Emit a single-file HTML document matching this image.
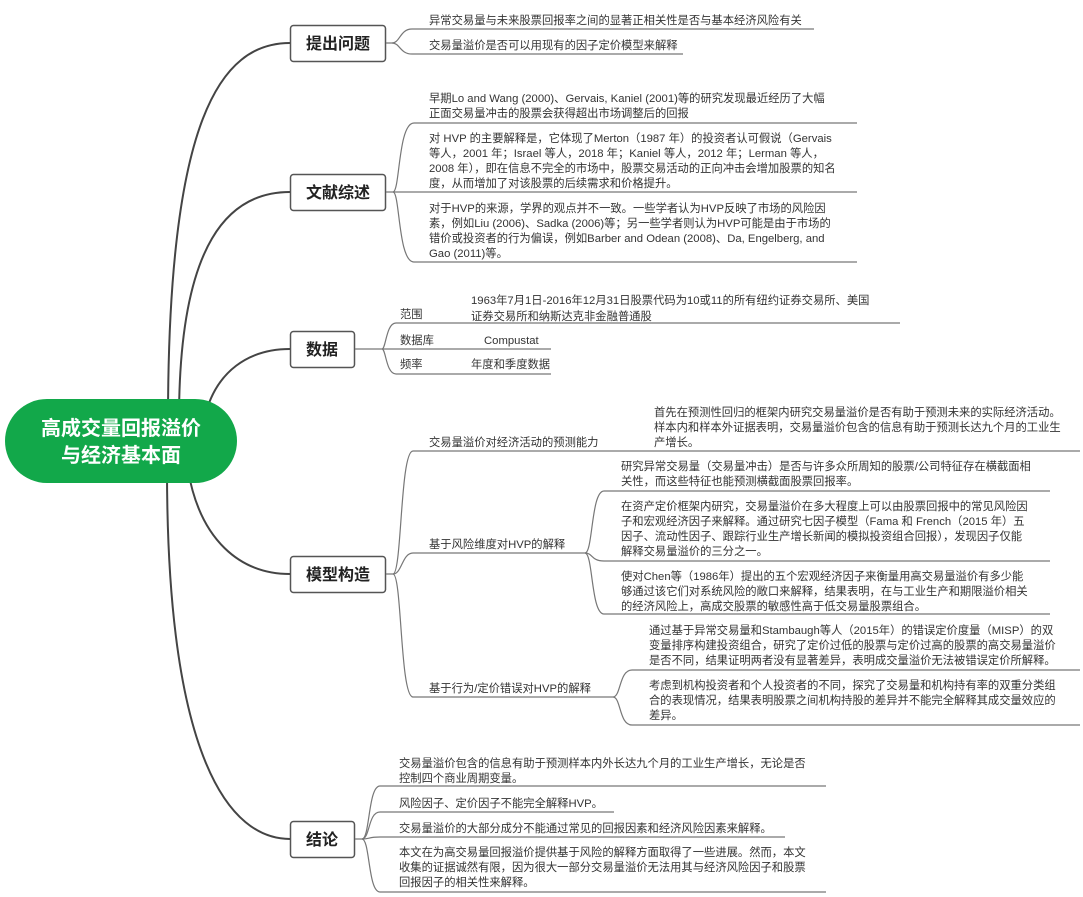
<!DOCTYPE html>
<html><head><meta charset="utf-8"><style>
html,body{margin:0;padding:0;background:#fff;}
svg{display:block;}
text{font-family:"Liberation Sans","Noto Sans CJK SC",sans-serif;fill:#333;font-size:11.3px;}
.n{font-size:16px;font-weight:bold;fill:#222;}
.m{stroke:#444;stroke-width:2;fill:none;}
.l{stroke:#777;stroke-width:1.2;fill:none;}
</style></head><body>
<svg width="1083" height="897" viewBox="0 0 1083 897" xmlns="http://www.w3.org/2000/svg">
<path class="m" d="M168,420 C168,120 220,43 290,43"/>
<path class="m" d="M179,420 C179,240 230,192 290,192"/>
<path class="m" d="M204,420 C215,370 250,349 290,349"/>
<path class="m" d="M188,470 C200,540 240,574 290,574"/>
<path class="m" d="M167,470 C167,760 230,839 290,839"/>
<rect x="5" y="399" width="232" height="84" rx="42" fill="#12a84a"/>
<text x="121" y="435" text-anchor="middle" style="font-size:20px;font-weight:bold;fill:#fff">高成交量回报溢价</text>
<text x="121" y="462" text-anchor="middle" style="font-size:20px;font-weight:bold;fill:#fff">与经济基本面</text>

<rect x="290.5" y="25.5" width="95" height="36" rx="3" fill="#fff" stroke="#555" stroke-width="1.5"/>
<text class="n" x="338" y="49" text-anchor="middle">提出问题</text>
<rect x="290.5" y="174.5" width="95" height="36" rx="3" fill="#fff" stroke="#555" stroke-width="1.5"/>
<text class="n" x="338" y="198" text-anchor="middle">文献综述</text>
<rect x="290.5" y="331.5" width="64" height="36" rx="3" fill="#fff" stroke="#555" stroke-width="1.5"/>
<text class="n" x="322" y="355" text-anchor="middle">数据</text>
<rect x="290.5" y="556.5" width="95" height="36" rx="3" fill="#fff" stroke="#555" stroke-width="1.5"/>
<text class="n" x="338" y="580" text-anchor="middle">模型构造</text>
<rect x="290.5" y="821.5" width="64" height="36" rx="3" fill="#fff" stroke="#555" stroke-width="1.5"/>
<text class="n" x="322" y="845" text-anchor="middle">结论</text>

<path class="l" d="M386,43 L392,43 C400,43 400,29 412,29 L814,29"/>
<path class="l" d="M392,43 C400,43 400,54 412,54 L683,54"/>
<text x="429" y="24">异常交易量与未来股票回报率之间的显著正相关性是否与基本经济风险有关</text>
<text x="429" y="49">交易量溢价是否可以用现有的因子定价模型来解释</text>

<path class="l" d="M386,192 L393,192 C400,192 398,123 414,123 L857,123"/>
<path class="l" d="M393,192 L857,192"/>
<path class="l" d="M393,192 C400,192 398,262 414,262 L857,262"/>
<text x="429" y="102">早期Lo and Wang (2000)、Gervais, Kaniel (2001)等的研究发现最近经历了大幅</text>
<text x="429" y="117">正面交易量冲击的股票会获得超出市场调整后的回报</text>
<text x="429" y="142">对 HVP 的主要解释是，它体现了Merton（1987 年）的投资者认可假说（Gervais</text>
<text x="429" y="157">等人，2001 年；Israel 等人，2018 年；Kaniel 等人，2012 年；Lerman 等人，</text>
<text x="429" y="172">2008 年），即在信息不完全的市场中，股票交易活动的正向冲击会增加股票的知名</text>
<text x="429" y="187">度，从而增加了对该股票的后续需求和价格提升。</text>
<text x="429" y="212">对于HVP的来源，学界的观点并不一致。一些学者认为HVP反映了市场的风险因</text>
<text x="429" y="227">素，例如Liu (2006)、Sadka (2006)等；另一些学者则认为HVP可能是由于市场的</text>
<text x="429" y="242">错价或投资者的行为偏误，例如Barber and Odean (2008)、Da, Engelberg, and</text>
<text x="429" y="257">Gao (2011)等。</text>

<path class="l" d="M355,349 L382,349 C386,349 386,323 396,323 L900,323"/>
<path class="l" d="M382,349 L551,349"/>
<path class="l" d="M382,349 C386,349 386,374 396,374 L551,374"/>
<text x="400" y="318">范围</text>
<text x="471" y="304">1963年7月1日-2016年12月31日股票代码为10或11的所有纽约证券交易所、美国</text>
<text x="471" y="320">证券交易所和纳斯达克非金融普通股</text>
<text x="400" y="344">数据库</text>
<text x="484" y="344">Compustat</text>
<text x="400" y="368">频率</text>
<text x="471" y="368">年度和季度数据</text>

<path class="l" d="M386,574 L393,574 C402,574 400,451 413,451 L1080,451"/>
<path class="l" d="M393,574 C402,574 402,553 413,553 L585,553"/>
<path class="l" d="M393,574 C402,574 400,697 413,697 L613,697"/>
<text x="429" y="446">交易量溢价对经济活动的预测能力</text>
<text x="429" y="548">基于风险维度对HVP的解释</text>
<text x="429" y="692">基于行为/定价错误对HVP的解释</text>
<text x="654" y="416">首先在预测性回归的框架内研究交易量溢价是否有助于预测未来的实际经济活动。</text>
<text x="654" y="431">样本内和样本外证据表明，交易量溢价包含的信息有助于预测长达九个月的工业生</text>
<text x="654" y="446">产增长。</text>
<path class="l" d="M585,553 C593,553 591,491 604,491 L1050,491"/>
<path class="l" d="M585,553 C593,553 591,561 604,561 L1050,561"/>
<path class="l" d="M585,553 C593,553 591,614 604,614 L1050,614"/>
<text x="621" y="470">研究异常交易量（交易量冲击）是否与许多众所周知的股票/公司特征存在横截面相</text>
<text x="621" y="485">关性，而这些特征也能预测横截面股票回报率。</text>
<text x="621" y="510">在资产定价框架内研究，交易量溢价在多大程度上可以由股票回报中的常见风险因</text>
<text x="621" y="525">子和宏观经济因子来解释。通过研究七因子模型（Fama 和 French（2015 年）五</text>
<text x="621" y="540">因子、流动性因子、跟踪行业生产增长新闻的模拟投资组合回报），发现因子仅能</text>
<text x="621" y="555">解释交易量溢价的三分之一。</text>
<text x="621" y="580">使对Chen等（1986年）提出的五个宏观经济因子来衡量用高交易量溢价有多少能</text>
<text x="621" y="595">够通过该它们对系统风险的敞口来解释，结果表明，在与工业生产和期限溢价相关</text>
<text x="621" y="610">的经济风险上，高成交股票的敏感性高于低交易量股票组合。</text>
<path class="l" d="M613,697 C621,697 619,670 632,670 L1080,670"/>
<path class="l" d="M613,697 C621,697 619,725 632,725 L1080,725"/>
<text x="649" y="634">通过基于异常交易量和Stambaugh等人（2015年）的错误定价度量（MISP）的双</text>
<text x="649" y="649">变量排序构建投资组合，研究了定价过低的股票与定价过高的股票的高交易量溢价</text>
<text x="649" y="664">是否不同，结果证明两者没有显著差异，表明成交量溢价无法被错误定价所解释。</text>
<text x="649" y="689">考虑到机构投资者和个人投资者的不同，探究了交易量和机构持有率的双重分类组</text>
<text x="649" y="704">合的表现情况，结果表明股票之间机构持股的差异并不能完全解释其成交量效应的</text>
<text x="649" y="719">差异。</text>

<path class="l" d="M355,839 L362,839 C370,839 368,786 380,786 L826,786"/>
<path class="l" d="M362,839 C370,839 368,812 380,812 L614,812"/>
<path class="l" d="M362,839 C370,839 368,837 380,837 L785,837"/>
<path class="l" d="M362,839 C370,839 368,892 380,892 L826,892"/>
<text x="399" y="767">交易量溢价包含的信息有助于预测样本内外长达九个月的工业生产增长，无论是否</text>
<text x="399" y="782">控制四个商业周期变量。</text>
<text x="399" y="807">风险因子、定价因子不能完全解释HVP。</text>
<text x="399" y="832">交易量溢价的大部分成分不能通过常见的回报因素和经济风险因素来解释。</text>
<text x="399" y="856">本文在为高交易量回报溢价提供基于风险的解释方面取得了一些进展。然而，本文</text>
<text x="399" y="871">收集的证据诚然有限，因为很大一部分交易量溢价无法用其与经济风险因子和股票</text>
<text x="399" y="886">回报因子的相关性来解释。</text>
</svg>
</body></html>
